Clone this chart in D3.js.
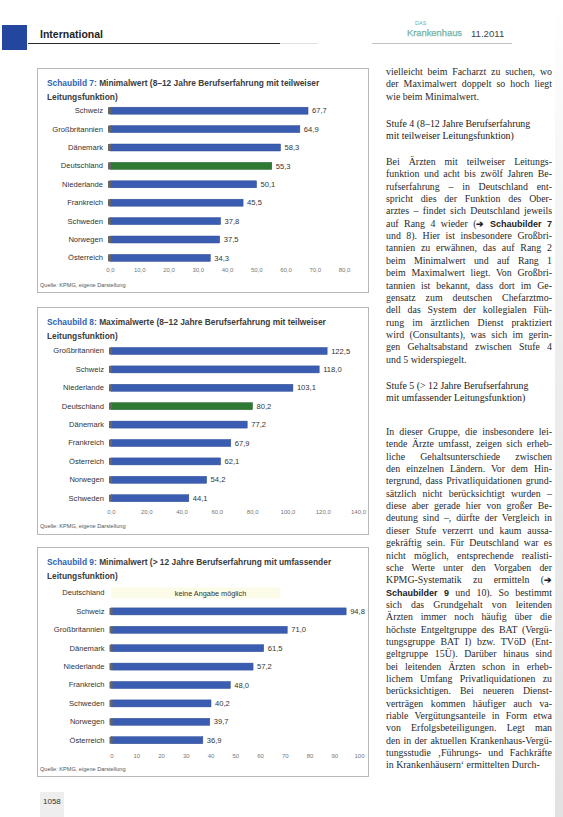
<!DOCTYPE html>
<html><head><meta charset="utf-8">
<script src="https://cdn.jsdelivr.net/npm/d3@7"></script>
<style>html,body{margin:0;padding:0;background:#fff;} svg{display:block;}</style>
</head><body>
<script>
// ---------- DATA ----------
const chart7Categories = ["Schweiz","Großbritannien","Dänemark","Deutschland","Niederlande","Frankreich","Schweden","Norwegen","Österreich"];
const chart7Values     = [67.7, 64.9, 58.3, 55.3, 50.1, 45.5, 37.8, 37.5, 34.3];
const chart7Ticks      = [0,10,20,30,40,50,60,70,80];

const chart8Categories = ["Großbritannien","Schweiz","Niederlande","Deutschland","Dänemark","Frankreich","Österreich","Norwegen","Schweden"];
const chart8Values     = [122.5, 118.0, 103.1, 80.2, 77.2, 67.9, 62.1, 54.2, 44.1];
const chart8Ticks      = [0,20,40,60,80,100,120,140];

const chart9Categories = ["Deutschland","Schweiz","Großbritannien","Dänemark","Niederlande","Frankreich","Schweden","Norwegen","Österreich"];
const chart9Values     = [null, 94.8, 71.0, 61.5, 57.2, 48.0, 40.2, 39.7, 36.9];
const chart9Ticks      = [0,10,20,30,40,50,60,70,80,90,100];

const highlightCategory = "Deutschland";
const noDataText = "keine Angabe möglich";
const sourceText = "Quelle: KPMG, eigene Darstellung";

const paraA = [
 "vielleicht beim Facharzt zu suchen, wo",
 "der Maximalwert doppelt so hoch liegt",
 "wie beim Minimalwert."
];
const head4 = ["Stufe 4 (8–12 Jahre Berufserfahrung","mit teilweiser Leitungsfunktion)"];
const paraB = [
 "Bei Ärzten mit teilweiser Leitungs-",
 "funktion und acht bis zwölf Jahren Be-",
 "rufserfahrung – in Deutschland ent-",
 "spricht dies der Funktion des Ober-",
 "arztes – findet sich Deutschland jeweils",
 "auf Rang 4 wieder (|➔ Schaubilder 7|",
 "und 8). Hier ist insbesondere Großbri-",
 "tannien zu erwähnen, das auf Rang 2",
 "beim Minimalwert und auf Rang 1",
 "beim Maximalwert liegt. Von Großbri-",
 "tannien ist bekannt, dass dort im Ge-",
 "gensatz zum deutschen Chefarztmo-",
 "dell das System der kollegialen Füh-",
 "rung im ärztlichen Dienst praktiziert",
 "wird (Consultants), was sich im gerin-",
 "gen Gehaltsabstand zwischen Stufe 4",
 "und 5 widerspiegelt."
];
const head5 = ["Stufe 5 (> 12 Jahre Berufserfahrung","mit umfassender Leitungsfunktion)"];
const paraC = [
 "In dieser Gruppe, die insbesondere lei-",
 "tende Ärzte umfasst, zeigen sich erheb-",
 "liche Gehaltsunterschiede zwischen",
 "den einzelnen Ländern. Vor dem Hin-",
 "tergrund, dass Privatliquidationen grund-",
 "sätzlich nicht berücksichtigt wurden –",
 "diese aber gerade hier von großer Be-",
 "deutung sind –, dürfte der Vergleich in",
 "dieser Stufe verzerrt und kaum aussa-",
 "gekräftig sein. Für Deutschland war es",
 "nicht möglich, entsprechende realisti-",
 "sche Werte unter den Vorgaben der",
 "KPMG-Systematik zu ermitteln (|➔|",
 "|Schaubilder 9| und 10). So bestimmt",
 "sich das Grundgehalt von leitenden",
 "Ärzten immer noch häufig über die",
 "höchste Entgeltgruppe des BAT (Vergü-",
 "tungsgruppe BAT I) bzw. TVöD (Ent-",
 "geltgruppe 15Ü). Darüber hinaus sind",
 "bei leitenden Ärzten schon in erheb-",
 "lichem Umfang Privatliquidationen zu",
 "berücksichtigen. Bei neueren Dienst-",
 "verträgen kommen häufiger auch va-",
 "riable Vergütungsanteile in Form etwa",
 "von Erfolgsbeteiligungen. Legt man",
 "den in der aktuellen Krankenhaus-Vergü-",
 "tungsstudie ‚Führungs- und Fachkräfte",
 "in Krankenhäusern‘ ermittelten Durch-"
];

// ---------- DRAWING ----------
const W = 563, H = 817;
const svg = d3.select("body").append("svg").attr("width", W).attr("height", H);
const SANS = "'Liberation Sans', Arial, sans-serif";
const SERIF = "'Liberation Serif', 'Times New Roman', serif";
const BLUE = "#3a5db2", GREEN = "#2e7a35";
const deFmt = d => d3.format(".1f")(d).replace(".", ",");

// header
svg.append("rect").attr("x",2).attr("y",25).attr("width",25).attr("height",25).attr("fill","#23479e");
svg.append("text").attr("x",40).attr("y",38).attr("font-family",SANS).attr("font-size",10.5)
   .attr("fill","#1e1e1e").attr("font-weight","bold").text("International");
svg.append("line").attr("x1",28).attr("x2",280).attr("y1",43.5).attr("y2",43.5).attr("stroke","#111").attr("stroke-width",0.9);
svg.append("line").attr("x1",280).attr("x2",318).attr("y1",43.5).attr("y2",43.5).attr("stroke","#ddd").attr("stroke-width",0.9);
svg.append("line").attr("x1",372).attr("x2",512).attr("y1",43.5).attr("y2",43.5).attr("stroke","#999").attr("stroke-width",0.6);
svg.append("text").attr("x",415).attr("y",25).attr("font-family",SANS).attr("font-size",5.5).attr("fill","#6bb0a4").text("DAS");
svg.append("text").attr("x",407).attr("y",36).attr("font-family",SANS).attr("font-size",9.2).attr("fill","#86c6ba")
   .attr("stroke","#5d9f94").attr("stroke-width",0.25).attr("textLength",55).attr("lengthAdjust","spacingAndGlyphs").text("Krankenhaus");
svg.append("text").attr("x",471).attr("y",37).attr("font-family",SANS).attr("font-size",9.6).attr("fill","#444").text("11.2011");

// charts
function drawChart(cfg) {
  const g = svg.append("g");
  g.append("rect").attr("x",cfg.box[0]).attr("y",cfg.box[1]).attr("width",cfg.box[2]).attr("height",cfg.box[3])
    .attr("fill","#fff").attr("stroke","#b8b8b8").attr("stroke-width",1);
  const t1 = g.append("text").attr("x",47).attr("y",cfg.titleY).attr("font-family",SANS).attr("font-size",8.4).attr("font-weight","bold");
  t1.append("tspan").attr("fill","#2f64b6").text(cfg.num + " ");
  t1.append("tspan").attr("fill","#3c3c3c").text(cfg.title1);
  g.append("text").attr("x",47).attr("y",cfg.titleY + 14).attr("font-family",SANS).attr("font-size",8.4).attr("font-weight","bold")
    .attr("fill","#3c3c3c").text(cfg.title2);

  const x = d3.scaleLinear().domain([0, cfg.max]).range([cfg.x0, cfg.x1]);
  const step = 18.4;
  const y = d3.scaleBand().domain(cfg.cats).range([cfg.y0, cfg.y0 + cfg.cats.length * step])
    .paddingInner(0.62).paddingOuter(0.31);
  const rows = cfg.cats.map((c, i) => ({c, v: cfg.vals[i]}));

  const ya = g.append("g").attr("transform", `translate(${x(0) - 2},0)`)
    .call(d3.axisLeft(y).tickSize(0).tickPadding(5));
  ya.select(".domain").remove();
  ya.selectAll("text").attr("font-family",SANS).attr("font-size",7.6).attr("fill","#333");

  if (cfg.noData) {
    const nd = rows.find(r => r.v == null);
    g.append("rect").attr("x",x(0)).attr("y",y(nd.c) - 2).attr("width",x(cfg.max*0.68) - x(0)).attr("height",y.bandwidth() + 4)
      .attr("fill","#fbfbe8");
    g.append("text").attr("x",x(cfg.max*0.4)).attr("y",y(nd.c) + y.bandwidth()/2).attr("dy","0.35em")
      .attr("text-anchor","middle").attr("font-family",SANS).attr("font-size",7.3).attr("fill","#333").text(cfg.noData);
  }

  const data = rows.filter(r => r.v != null);
  g.selectAll(".bar").data(data).enter().append("rect")
    .attr("x", x(0)).attr("y", d => y(d.c)).attr("width", d => x(d.v) - x(0)).attr("height", y.bandwidth())
    .attr("fill", d => d.c === highlightCategory ? GREEN : BLUE)
    .attr("stroke", d => d.c === highlightCategory ? "#24602a" : "#2f4d94").attr("stroke-width", 0.5);
  g.selectAll(".stub").data(data).enter().append("rect")
    .attr("x", x(0) - 2).attr("y", d => y(d.c)).attr("width", 3).attr("height", y.bandwidth()).attr("fill", "#666");
  g.selectAll(".val").data(data).enter().append("text")
    .attr("x", d => x(d.v) + 4).attr("y", d => y(d.c) + y.bandwidth()/2).attr("dy","0.35em")
    .attr("font-family",SANS).attr("font-size",7.6).attr("fill","#333").text(d => deFmt(d.v));

  const xa = g.append("g").attr("transform", `translate(0,${cfg.axisY})`)
    .call(d3.axisBottom(x).tickValues(cfg.ticks).tickFormat(cfg.tickFmt).tickSize(0).tickPadding(0));
  xa.select(".domain").remove();
  xa.selectAll("text").attr("font-family",SANS).attr("font-size",6).attr("fill","#777");

  g.append("text").attr("x",40).attr("y",cfg.sourceY).attr("font-family",SANS).attr("font-size",5.6)
    .attr("fill","#555").text(sourceText);
}

drawChart({
  box:[37.5,68.5,331,224], titleY:86, num:"Schaubild 7:",
  title1:"Minimalwert (8–12 Jahre Berufserfahrung mit teilweiser", title2:"Leitungsfunktion)",
  cats: chart7Categories, vals: chart7Values, ticks: chart7Ticks, max: 80,
  x0:110, x1:344, y0:101.5, axisY:268, sourceY:287, tickFmt: d => deFmt(d)
});
drawChart({
  box:[37.5,307.5,331,227], titleY:325, num:"Schaubild 8:",
  title1:"Maximalwerte (8–12 Jahre Berufserfahrung mit teilweiser", title2:"Leitungsfunktion)",
  cats: chart8Categories, vals: chart8Values, ticks: chart8Ticks, max: 140,
  x0:111, x1:358, y0:341.8, axisY:510, sourceY:528, tickFmt: d => deFmt(d)
});
drawChart({
  box:[37.5,547.5,331,229], titleY:565, num:"Schaubild 9:",
  title1:"Minimalwert (> 12 Jahre Berufserfahrung mit umfassender", title2:"Leitungsfunktion)",
  cats: chart9Categories, vals: chart9Values, ticks: chart9Ticks, max: 100,
  x0:111.5, x1:359, y0:583.8, axisY:754, sourceY:771, tickFmt: d => String(d), noData: noDataText
});

// right text column
const colX = 386, colW = 166, LH = 12.35;
function writeLines(lines, y0, opts) {
  lines.forEach((line, i) => {
    const t = svg.append("text").attr("x", colX).attr("y", y0 + i * LH)
      .attr("font-family", SERIF).attr("font-size", opts.size || 9.9).attr("fill", opts.fill || "#2a2a2a");
    line.split("|").forEach((seg, k) => {
      if (!seg) return;
      const ts = t.append("tspan").text(seg);
      if (k % 2 === 1) ts.attr("font-family", SANS).attr("font-weight","bold").attr("font-size", 9).attr("fill","#222");
    });
    const w = t.node().getComputedTextLength();
    if (w > colW) {
      t.attr("textLength", colW).attr("lengthAdjust","spacingAndGlyphs");
    } else if (opts.justify && i < lines.length - 1) {
      const spaces = (line.replace(/\|/g,"").match(/ /g) || []).length;
      if (spaces > 0) t.attr("word-spacing", (colW - w) / spaces);
    }
  });
}
writeLines(paraA, 75, {justify:true});
writeLines(head4, 127, {size:9.9, fill:"#1a1a1a"});
writeLines(paraB, 165, {justify:true});
writeLines(head5, 389, {size:9.9, fill:"#1a1a1a"});
writeLines(paraC, 435, {justify:true});

// footer page number
svg.append("rect").attr("x",40).attr("y",792).attr("width",24).attr("height",25).attr("fill","#eeeeee");
svg.append("text").attr("x",43).attr("y",804).attr("font-family",SANS).attr("font-size",8).attr("fill","#333").text("1058");

// scan shading at right edge
const grad = svg.append("defs").append("linearGradient").attr("id","edge").attr("x1",0).attr("x2",0).attr("y1",0).attr("y2",1);
grad.append("stop").attr("offset","0").attr("stop-color","#fff");
grad.append("stop").attr("offset","0.4").attr("stop-color","#eee");
grad.append("stop").attr("offset","1").attr("stop-color","#e2e2e2");
svg.append("rect").attr("x",555).attr("y",0).attr("width",8).attr("height",H).attr("fill","url(#edge)");
</script>
</body></html>
